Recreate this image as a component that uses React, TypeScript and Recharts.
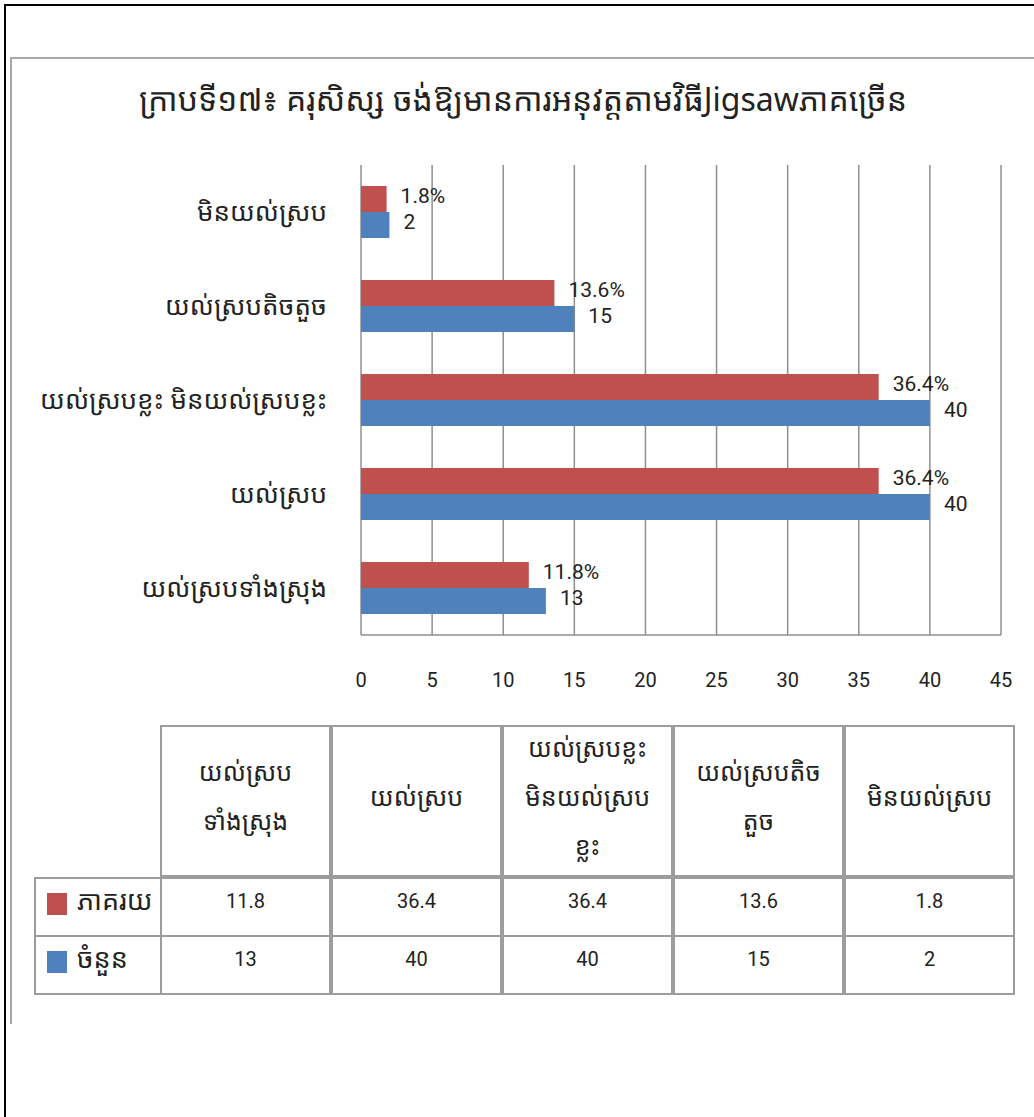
import React from 'react';
import { BarChart, Bar, XAxis, YAxis, CartesianGrid, LabelList } from 'recharts';

const title = 'ក្រាបទី១៧៖ គរុសិស្ស ចង់ឱ្យមានការអនុវត្តតាមវិធីJigsawភាគច្រើន';

// categories in table order (chart shows them bottom-up)
const categories = [
  'យល់ស្របទាំងស្រុង',
  'យល់ស្រប ',
  'យល់ស្របខ្លះ មិនយល់ស្របខ្លះ',
  'យល់ស្របតិចតួច',
  'មិនយល់ស្រប',
];
const headerLines = [
  ['យល់ស្រប', 'ទាំងស្រុង'],
  ['យល់ស្រប'],
  ['យល់ស្របខ្លះ', 'មិនយល់ស្រប', 'ខ្លះ'],
  ['យល់ស្របតិច', 'តួច'],
  ['មិនយល់ស្រប'],
];
const percentValues = [11.8, 36.4, 36.4, 13.6, 1.8];
const countValues = [13, 40, 40, 15, 2];
const xTicks = [0, 5, 10, 15, 20, 25, 30, 35, 40, 45];

const seriesNames = { pct: 'ភាគរយ', count: 'ចំនួន' };
const RED = '#C0504D';
const BLUE = '#4F81BD';
const GRID = '#8f8f8f';
const LINE = '#9c9c9c';
const KHMER = "'Noto Sans Khmer', 'Khmer OS', 'Noto Sans', 'DejaVu Sans', sans-serif";
const NUM = "Roboto, 'Liberation Sans', Arial, sans-serif";

const chartData = categories.map((name, i) => ({
  name,
  pct: percentValues[i],
  count: countValues[i],
}));

const makeLabel = (suffix: string) => (props: any) => {
  const { x, y, width, height, value } = props;
  return (
    <text
      x={Number(x) + Number(width) + 14}
      y={Number(y) + Number(height) / 2 - 3}
      dominantBaseline="central"
      fontFamily={NUM}
      fontSize={21}
      fill="#222"
    >
      {value}
      {suffix}
    </text>
  );
};

const colLefts = [160, 331, 502, 673, 844];
const colW = 171;

const App = () => {
  return (
    <div style={{ position: 'absolute', left: 0, top: 0, width: 1034, height: 1117, background: '#fff', overflow: 'hidden' }}>
      {/* outer page frame */}
      <div style={{ position: 'absolute', left: 4, top: 4, right: 0, bottom: 0, borderTop: '2px solid #000', borderLeft: '2px solid #000' }} />
      <div style={{ position: 'absolute', left: 10, top: 57, right: 0, height: 965, borderTop: '2px solid #a8a8a8', borderLeft: '2px solid #a8a8a8' }} />

      <div
        style={{
          position: 'absolute',
          left: 0,
          width: 1046,
          top: 77,
          textAlign: 'center',
          fontFamily: KHMER,
          fontSize: 32,
          color: '#222',
          whiteSpace: 'nowrap',
        }}
      >
        {title}
      </div>

      <div style={{ position: 'absolute', left: 0, top: 150 }}>
        <BarChart
          width={1034}
          height={560}
          layout="vertical"
          data={chartData}
          margin={{ top: 15, right: 33, left: 0, bottom: 0 }}
          barGap={0}
        >
          <CartesianGrid horizontal={false} stroke={GRID} strokeWidth={1.5} />
          <XAxis
            type="number"
            domain={[0, 45]}
            ticks={xTicks}
            height={75}
            tickLine={false}
            tickSize={0}
            tickMargin={38}
            axisLine={{ stroke: GRID, strokeWidth: 1.5 }}
            tick={{ fontFamily: NUM, fontSize: 20, fill: '#222' }}
          />
          <YAxis
            type="category"
            dataKey="name"
            reversed
            width={361}
            tickLine={false}
            tickSize={0}
            tickMargin={34}
            axisLine={false}
            tick={{ fontFamily: KHMER, fontSize: 26, fill: '#222' }}
          />
          <Bar dataKey="pct" name={seriesNames.pct} fill={RED} barSize={26} isAnimationActive={false}>
            <LabelList dataKey="pct" content={makeLabel('%')} />
          </Bar>
          <Bar dataKey="count" name={seriesNames.count} fill={BLUE} barSize={26} isAnimationActive={false}>
            <LabelList dataKey="count" content={makeLabel('')} />
          </Bar>
        </BarChart>
      </div>

      {/* data table */}
      {headerLines.map((lines, i) => (
        <div
          key={'h' + i}
          style={{
            position: 'absolute',
            left: colLefts[i],
            top: 725,
            width: colW,
            height: 152,
            boxSizing: 'border-box',
            border: `2px solid ${LINE}`,
            display: 'flex',
            flexDirection: 'column',
            justifyContent: 'center',
            alignItems: 'center',
            fontFamily: KHMER,
            fontSize: 25,
            lineHeight: '49px',
            color: '#222',
            paddingBottom: 10,
          }}
        >
          {lines.map((l, j) => (
            <div key={j}>{l}</div>
          ))}
        </div>
      ))}
      {[
        { name: seriesNames.pct, color: RED, values: percentValues, top: 877 },
        { name: seriesNames.count, color: BLUE, values: countValues, top: 935 },
      ].map((row, r) => (
        <React.Fragment key={'r' + r}>
          <div
            style={{
              position: 'absolute',
              left: 34,
              top: row.top,
              width: 128,
              height: 60,
              boxSizing: 'border-box',
              border: `2px solid ${LINE}`,
            }}
          >
            <div style={{ position: 'absolute', left: 11, top: 14, width: 20, height: 22, background: row.color }} />
            <div
              style={{
                position: 'absolute',
                left: 41,
                top: 0,
                fontFamily: KHMER,
                fontSize: 27,
                lineHeight: '42px',
                color: '#222',
              }}
            >
              {row.name}
            </div>
          </div>
          {row.values.map((v, i) => (
            <div
              key={i}
              style={{
                position: 'absolute',
                left: colLefts[i],
                top: row.top,
                width: colW,
                height: 60,
                boxSizing: 'border-box',
                border: `2px solid ${LINE}`,
                textAlign: 'center',
                fontFamily: NUM,
                fontSize: 20,
                lineHeight: '44px',
                color: '#222',
              }}
            >
              {v}
            </div>
          ))}
        </React.Fragment>
      ))}
    </div>
  );
};

export default App;
